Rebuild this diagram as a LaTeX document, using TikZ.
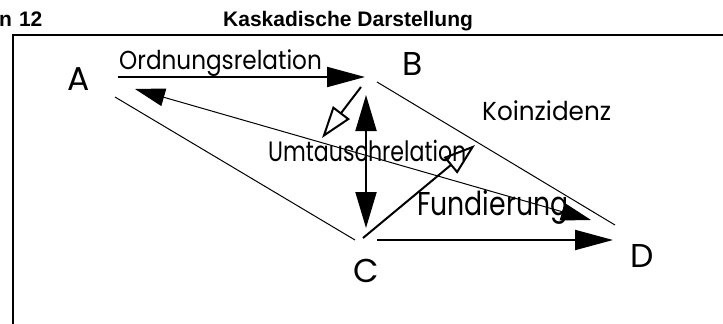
\documentclass[tikz,border=0pt]{standalone}
\usepackage{fontspec}
\setmainfont{Poppins}
\newfontfamily\headfont{Liberation Sans}
\usetikzlibrary{arrows.meta}
\newcommand{\fsz}[1]{\fontsize{#1}{#1}\selectfont}
\tikzset{
  frame/.style={line width=2pt,line cap=rect},
  thinline/.style={line width=1pt},
  thickline/.style={line width=2pt},
  fillhead/.style={-{Triangle[length=38pt,width=20pt]}},
  openhead/.style={-{Triangle[open,length=32pt,width=21pt,line width=2pt]}},
  lbl/.style={inner sep=0pt,anchor=base west},
  letter/.style={inner sep=0pt,font=\fsz{33}},
  head/.style={inner sep=0pt,anchor=base west,font=\headfont\bfseries\fsz{21}}
}
\begin{document}
\begin{tikzpicture}[x=1pt,y=-1pt]
\useasboundingbox (0,0) rectangle (723,324);
% header and frame
\node[head] (num) at (-1,27) {n\hspace{7pt}12};
\node[head] (title) at (223,27) {Kaskadische Darstellung};
\coordinate (fTR) at (730,35);
\coordinate (fTL) at (13,35);
\coordinate (fBL) at (13,330);
\draw[frame] (fTR) -- (fTL) -- (fBL);
% letters
\node[letter] (A) at (79,79) {A};
\node[letter] (B) at (413,64) {B};
\node[letter] (C) at (366,271) {C};
\node[letter] (D) at (642,256) {D};
% labels
\node[lbl] (ord) at (119,69) {\fsz{26}\scalebox{0.89}[1]{Ordnungsrelation}};
\node[lbl] (koi) at (482,120) {\fsz{26}\scalebox{0.95}[1]{Koinzidenz}};
\node[lbl] (umt) at (268,161) {\fsz{28}\scalebox{0.79}[1]{Umtauschrelation}};
\node[lbl] (fun) at (417,215) {\fsz{33}\scalebox{0.81}[1]{Fundierung}};
% endpoints
\coordinate (o1) at (118,77);
\coordinate (o2) at (365,77);
\coordinate (u1) at (361,87);
\coordinate (u2) at (322,138);
\coordinate (v1) at (366,95);
\coordinate (v2) at (366,228);
\coordinate (ac1) at (115,97);
\coordinate (ac2) at (355,240);
\coordinate (bd1) at (377,82);
\coordinate (bd2) at (615,225);
\coordinate (ad1) at (135,89);
\coordinate (ad2) at (591,220);
\coordinate (f1) at (363,238);
\coordinate (f2) at (475,145);
\coordinate (cd1) at (377,240);
\coordinate (cd2) at (613,240);
% connectors
\draw[thinline] (ac1) -- (ac2);
\draw[thinline] (bd1) -- (bd2);
\draw[thinline,{Triangle[length=30pt,width=18pt]}-{Triangle[length=30pt,width=18pt]}] (ad1) -- (ad2);
\draw[thickline,fillhead] (o1) -- (o2);
\draw[thickline,openhead] (u1) -- (u2);
\draw[thickline,{Triangle[length=36pt,width=21pt]}-{Triangle[length=36pt,width=21pt]}] (v1) -- (v2);
\draw[thickline,openhead] (f1) -- (f2);
\draw[thickline,fillhead] (cd1) -- (cd2);
\end{tikzpicture}
\end{document}
